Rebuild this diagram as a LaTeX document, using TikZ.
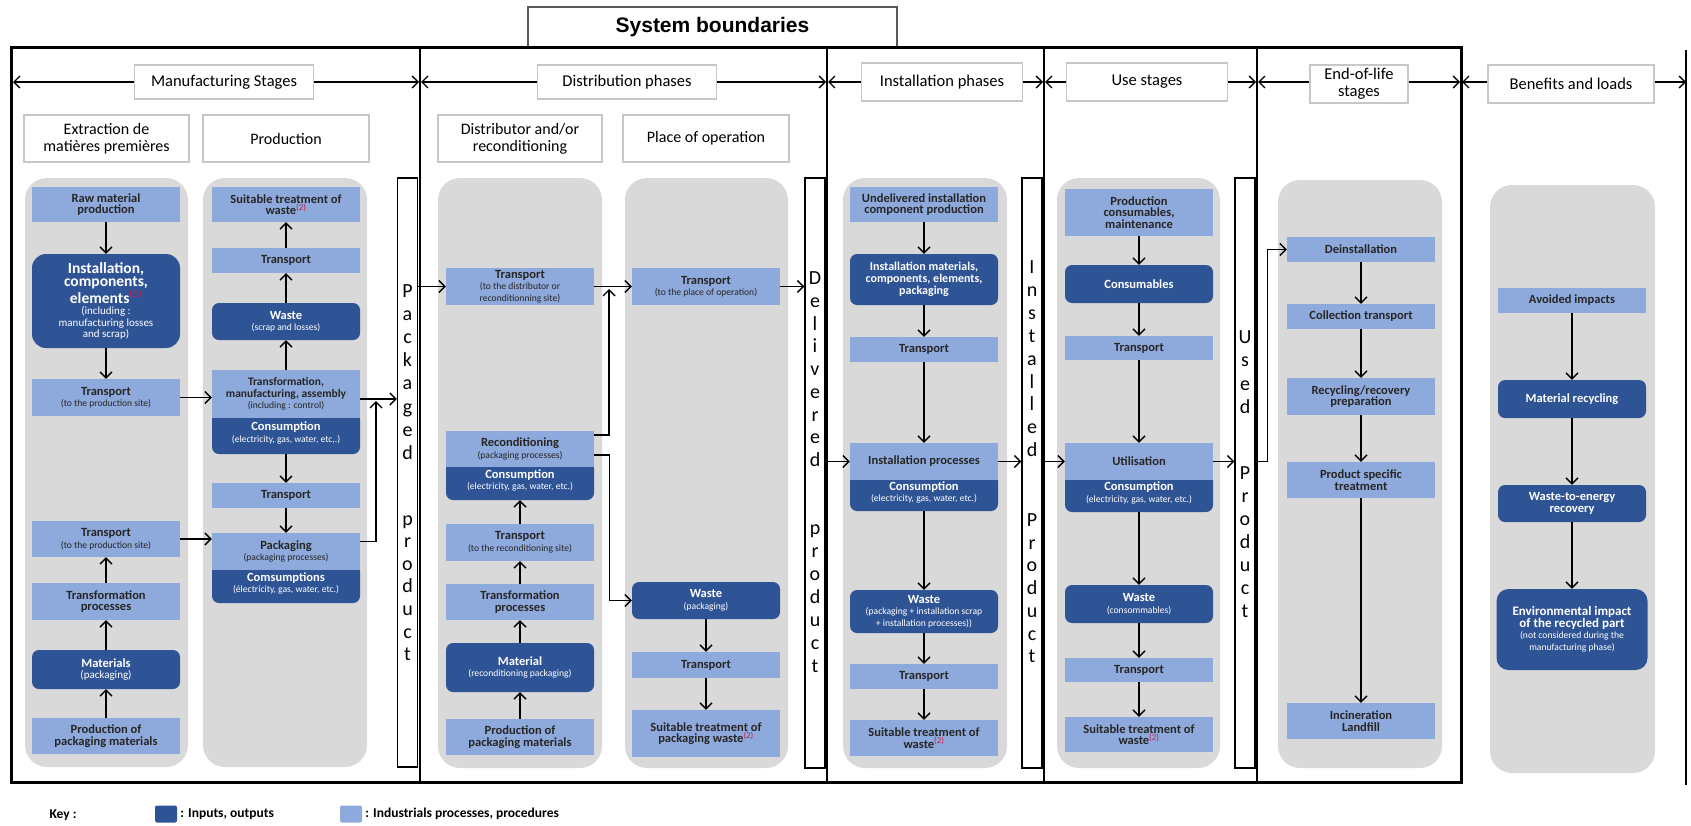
\documentclass[tikz,border=0pt]{standalone}
\usepackage{fontspec}
\setmainfont{Carlito}
\newfontfamily\arialfont{Liberation Sans}
\usetikzlibrary{arrows.meta,positioning}
\definecolor{procblue}{RGB}{142,169,219}
\definecolor{ioblue}{RGB}{47,84,150}
\definecolor{panelgray}{RGB}{217,217,217}
\definecolor{refred}{RGB}{205,30,70}
\newcommand{\smtxt}{\mdseries\fontsize{9.6}{10}\selectfont}
\newcommand{\midtxt}{\mdseries\fontsize{11}{11.5}\selectfont}
\newcommand{\bigtxt}{\fontsize{15.5}{16}\selectfont}
\newcommand{\refmark}[1]{\textsuperscript{\color{refred}\mdseries(#1)}}
\tikzset{
%Define standard arrow tip
    >={Straight Barb[length=6pt,width=12pt]},
%Define style for process boxes
    proc/.style={
           rectangle,
           fill=procblue,
           text=black!85,
           minimum width=148pt,
           inner sep=1pt,
           align=center,
           font=\fontsize{12.5}{11.5}\selectfont\bfseries},
%Define style for inputs and outputs
    inout/.style={
           proc,
           rounded corners=7pt,
           fill=ioblue,
           text=white},
%Define style for phase and stage titles
    phase/.style={
           rectangle,
           draw=black!22,
           line width=1.3pt,
           fill=white,
           align=center,
           font=\fontsize{16.5}{17}\selectfont},
    stage/.style={
           phase,
           minimum height=47pt,
           font=\fontsize{16}{17}\selectfont},
    sysbox/.style={
           rectangle,
           draw=black!65,
           line width=2.5pt,
           fill=white,
           minimum width=369pt,
           minimum height=40pt,
           font=\arialfont\bfseries\fontsize{21}{22}\selectfont},
%Define style for the grey columns and product bars
    panel/.style={
           fill=panelgray,
           rounded corners=22pt},
    prodbar/.style={
           rectangle,
           draw=black,
           line width=1.2pt,
           fill=white,
           minimum width=20pt,
           inner sep=0pt},
    letter/.style={
           anchor=base,
           inner sep=0pt,
           font=\fontsize{20}{20}\selectfont},
    sep/.style={
           line width=1.2pt},
% Define arrow style
    flow/.style={
           ->,
           line width=1.4pt},
    phasearrow/.style={
           <->,
           line width=1.3pt},
    keysq/.style={
           rectangle,
           rounded corners=2pt,
           minimum width=22pt,
           minimum height=17pt,
           inner sep=0pt},
    keytxt/.style={
           font=\fontsize{13.5}{14}\selectfont\bfseries,
           inner sep=0pt}
}
\begin{document}
\begin{tikzpicture}[x=1pt, y=-1pt]
\useasboundingbox (0,0) rectangle (1691,825);

% grey columns
\fill[panel] (25,178) rectangle (188,767);
\fill[panel] (203,178) rectangle (367,767);
\fill[panel] (438,178) rectangle (602,768);
\fill[panel] (625,178) rectangle (788,768);
\fill[panel] (843,178) rectangle (1007,768);
\fill[panel] (1057,178) rectangle (1220,768);
\fill[panel] (1278,180) rectangle (1442,768);
\fill[panel] (1490,185) rectangle (1655,773);

% system boundaries
\node[sysbox] (sys) at (712.5,27) {System boundaries};
\draw[line width=3pt] (11,47) rectangle (1461,782);
\foreach \xs in {420,827,1044,1257}
   \draw[sep] (\xs,47) -- (\xs,782);
\draw[sep] (1686,50) -- (1686,785);

% phase arrows and titles
\foreach \n/\xa/\xb in {mf/13/419, ds/421/826, in/828/1043, us/1045/1256, el/1258/1460, bl/1462/1686} {
   \coordinate (\n-l) at (\xa,82);
   \coordinate (\n-r) at (\xb,82);
   \draw[phasearrow] (\n-l) -- (\n-r);
}
\node[phase, minimum width=179pt, minimum height=34pt] (mfg) at (224,82) {Manufacturing Stages};
\node[phase, minimum width=179pt, minimum height=34pt] (dst) at (627,82) {Distribution phases};
\node[phase, minimum width=161pt, minimum height=38pt] (ins-t) at (942,82) {Installation phases};
\node[phase, minimum width=161pt, minimum height=38pt] (use-t) at (1147,82) {Use stages};
\node[phase, minimum width=98pt, minimum height=38pt] (eol-t) at (1359,84) {End-of-life\\stages};
\node[phase, minimum width=166pt, minimum height=38pt] (ben-t) at (1571,84) {Benefits and loads};

\node[stage, minimum width=165pt] (extr) at (106.5,138.5) {Extraction de\\matières premières};
\node[stage, minimum width=166pt] (prod) at (286,138.5) {Production};
\node[stage, minimum width=164pt] (dist) at (520,138.5) {Distributor and/or\\reconditioning};
\node[stage, minimum width=166pt] (plac) at (706,138.5) {Place of operation};

% product bars
\node[prodbar, minimum height=589pt] (pkg) at (407.5,472.5) {};
\node[prodbar, minimum height=590pt] (dlv) at (815,473) {};
\node[prodbar, minimum height=590pt] (ins) at (1032,473) {};
\node[prodbar, minimum height=590pt] (usd) at (1245,473) {};
\foreach \c [count=\i from 0] in {P,a,c,k,a,g,e,d}
   \node[letter] (pka\i) at (407.5,297+23.2*\i) {\c};
\foreach \c [count=\i from 0] in {p,r,o,d,u,c,t}
   \node[letter] (pkb\i) at (407.5,525+22.6*\i) {\c};
\foreach \c [count=\i from 0] in {D,e,l,i,v,e,r,e,d}
   \node[letter] (dla\i) at (815,284.5+22.75*\i) {\c};
\foreach \c [count=\i from 0] in {p,r,o,d,u,c,t}
   \node[letter] (dlb\i) at (815,534.5+23*\i) {\c};
\foreach \c [count=\i from 0] in {I,n,s,t,a,l,l,e,d}
   \node[letter] (isa\i) at (1032,273.5+22.9*\i) {\c};
\foreach \c [count=\i from 0] in {P,r,o,d,u,c,t}
   \node[letter] (isb\i) at (1032,526.5+22.7*\i) {\c};
\foreach \c [count=\i from 0] in {U,s,e,d}
   \node[letter] (usa\i) at (1245,343.5+23.3*\i) {\c};
\foreach \c [count=\i from 0] in {P,r,o,d,u,c,t}
   \node[letter] (usb\i) at (1245,479.5+23*\i) {\c};

% extraction
\node[proc, minimum height=35pt] (raw) at (106,204.5) {Raw material\\production};
\node[inout, minimum height=94pt, rounded corners=14pt] (inst) at (106,301) {\bigtxt Installation,\\\bigtxt components,\\\bigtxt elements\refmark{1}\\\midtxt (including :\\\midtxt manufacturing losses\\\midtxt and scrap)};
\node[proc, minimum height=37pt] (tr1) at (106,397.5) {Transport\\\smtxt (to the production site)};
\node[proc, minimum height=36pt] (tr2) at (106,539) {Transport\\\smtxt (to the production site)};
\node[proc, minimum height=37pt] (tfp) at (106,601.5) {Transformation\\processes};
\node[inout, minimum height=39pt] (mat) at (106,669.5) {Materials\\\midtxt (packaging)};
\node[proc, minimum height=36pt] (ppm) at (106,736) {Production of\\packaging materials};

% production
\node[proc, minimum height=35pt] (stw) at (286,204.5) {Suitable treatment of\\waste\refmark{2}};
\node[proc, minimum height=25pt] (tpw) at (286,260.5) {Transport};
\node[inout, minimum height=37pt] (wst) at (286,321.5) {Waste\\\smtxt (scrap and losses)};
\node[inout, minimum height=42pt] (con1) at (286,433) {Consumption\\\smtxt (electricity, gas, water, etc,.)};
\node[proc, minimum height=48pt] (tma) at (286,394) {\fontsize{11.5}{11.5}\selectfont Transformation,\\\fontsize{11.5}{11.5}\selectfont manufacturing, assembly\\\smtxt (including : control)};
\node[proc, minimum height=25pt] (tpp) at (286,495.5) {Transport};
\node[inout, minimum height=39pt] (con2) at (286,583.5) {Comsumptions\\\smtxt (électricity, gas, water, etc.)};
\node[proc, minimum height=37pt] (pck) at (286,551.5) {Packaging\\\smtxt (packaging processes)};

% distributor and/or reconditioning
\node[proc, minimum height=37pt] (trd) at (520,286.5) {Transport\\\smtxt (to the distributor or\\\smtxt reconditionning site)};
\node[inout, minimum height=39pt] (con3) at (520,480.5) {Consumption\\\smtxt (electricity, gas, water, etc.)};
\node[proc, minimum height=36pt] (rec) at (520,449) {Reconditioning\\\smtxt (packaging processes)};
\node[proc, minimum height=37pt] (trr) at (520,542.5) {Transport\\\smtxt (to the reconditioning site)};
\node[proc, minimum height=36pt] (tfq) at (520,602) {Transformation\\processes};
\node[inout, minimum height=49pt] (mtr) at (520,667.5) {Material\\\smtxt (reconditioning packaging)};
\node[proc, minimum height=36pt] (ppr) at (520,737) {Production of\\packaging materials};

% place of operation
\node[proc, minimum height=37pt] (tpo) at (706,286.5) {Transport\\\smtxt (to the place of operation)};
\node[inout, minimum height=37pt] (wpk) at (706,600.5) {Waste\\\smtxt (packaging)};
\node[proc, minimum height=26pt] (tpk) at (706,665) {Transport};
\node[proc, minimum height=47pt] (stp) at (706,733.5) {Suitable treatment of\\packaging waste\refmark{2}};

% installation
\node[proc, minimum height=35pt] (udl) at (924,204.5) {Undelivered installation\\component production};
\node[inout, minimum height=51pt, font=\fontsize{12}{12}\selectfont\bfseries] (imat) at (924,279.5) {Installation materials,\\components, elements,\\packaging};
\node[proc, minimum height=25pt] (tpi) at (924,349.5) {Transport};
\node[inout, minimum height=37pt] (con5) at (924,492.5) {Consumption\\\smtxt (electricity, gas, water, etc.)};
\node[proc, minimum height=37pt] (ipr) at (924,461.5) {Installation processes};
\node[inout, minimum height=43pt] (wsi) at (924,611.5) {Waste\\\smtxt (packaging + installation scrap\\\smtxt + installation processes))};
\node[proc, minimum height=25pt] (tpj) at (924,676.5) {Transport};
\node[proc, minimum height=36pt] (sti) at (924,738) {Suitable treatment of\\waste\refmark{2}};

% use
\node[proc, minimum height=47pt] (pcm) at (1139,212.5) {Production\\consumables,\\maintenance};
\node[inout, minimum height=38pt] (csm) at (1139,284) {Consumables};
\node[proc, minimum height=24pt] (tpu) at (1139,348) {Transport};
\node[inout, minimum height=38pt] (con6) at (1139,493) {Consumption\\\smtxt (electricity, gas, water, etc.)};
\node[proc, minimum height=37pt] (utl) at (1139,461.5) {Utilisation};
\node[inout, minimum height=38pt] (wsu) at (1139,604) {Waste\\\smtxt (consommables)};
\node[proc, minimum height=24pt] (tpv) at (1139,670) {Transport};
\node[proc, minimum height=35pt] (stu) at (1139,734.5) {Suitable treatment of\\waste\refmark{2}};

% end-of-life
\node[proc, minimum height=25pt] (dei) at (1361,249.5) {Deinstallation};
\node[proc, minimum height=25pt] (col) at (1361,316.5) {Collection transport};
\node[proc, minimum height=37pt] (rrp) at (1361,396.5) {Recycling/recovery\\preparation};
\node[proc, minimum height=36pt] (pst) at (1361,480) {Product specific\\treatment};
\node[proc, minimum height=36pt] (inc) at (1361,721) {Incineration\\Landfill};

% benefits and loads
\node[proc, minimum height=25pt] (avi) at (1572,300.5) {Avoided impacts};
\node[inout, minimum height=38pt] (mrc) at (1572,399) {Material recycling};
\node[inout, minimum height=37pt] (wte) at (1572,503.5) {Waste-to-energy\\recovery};
\node[inout, minimum height=81pt, minimum width=151pt, rounded corners=12pt] (env) at (1572,629.5) {\fontsize{13}{13}\selectfont Environmental impact\\\fontsize{13}{13}\selectfont of the recycled part\\\smtxt (not considered during the\\\smtxt manufacturing phase)};

% flows inside the columns
\foreach \a/\b in {raw/inst, inst/tr1, ppm/mat, mat/tfp, tfp/tr2,
                   tma/wst, wst/tpw, tpw/stw, con1/tpp, tpp/pck,
                   ppr/mtr, mtr/tfq, tfq/trr, trr/con3,
                   wpk/tpk, tpk/stp,
                   udl/imat, imat/tpi, tpi/ipr, con5/wsi, wsi/tpj, tpj/sti,
                   pcm/csm, csm/tpu, tpu/utl, con6/wsu, wsu/tpv, tpv/stu,
                   dei/col, col/rrp, rrp/pst, pst/inc,
                   avi/mrc, mrc/wte, wte/env}
   \draw[flow] (\a) -- (\b);

% flows between the columns
\draw[flow] (tr1.east) -- (tr1.east -| tma.west);
\draw[flow] (tr2.east) -- (tr2.east -| pck.west);
\draw[flow] ([yshift=-5pt]tma.east) -- ([yshift=-5pt]tma.east -| pkg.west);
\coordinate (pkjoin) at (376,401);
\draw[flow] ([yshift=10pt]pck.east) -| (pkjoin);
\draw[flow] (trd.west -| pkg.east) -- (trd.west);
\draw[flow] (trd) -- (tpo);
\coordinate (rcjoin) at (609,289);
\draw[flow] ([yshift=14pt]rec.east) -| (rcjoin);
\draw[flow] ([yshift=-6pt]rec.east) -- ++(15,0) |- (wpk.west);
\draw[flow] (tpo.east) -- (tpo.east -| dlv.west);
\draw[flow] (ipr.west -| dlv.east) -- (ipr.west);
\draw[flow] (ipr.east) -- (ipr.east -| ins.west);
\draw[flow] (utl.west -| ins.east) -- (utl.west);
\draw[flow] (utl.east) -- (utl.east -| usd.west);
\draw[flow] (utl.east -| usd.east) -- ++(12,0) |- (dei.west);

% key
\node[keytxt] (key) at (63,815) {Key :};
\node[keysq, fill=ioblue] (kio) at (166,814) {};
\node[keytxt, right=3pt of kio] (kiot) {: Inputs, outputs};
\node[keysq, fill=procblue] (kpr) at (351,814) {};
\node[keytxt, right=3pt of kpr] (kprt) {: Industrials processes, procedures};
\end{tikzpicture}
\end{document}
